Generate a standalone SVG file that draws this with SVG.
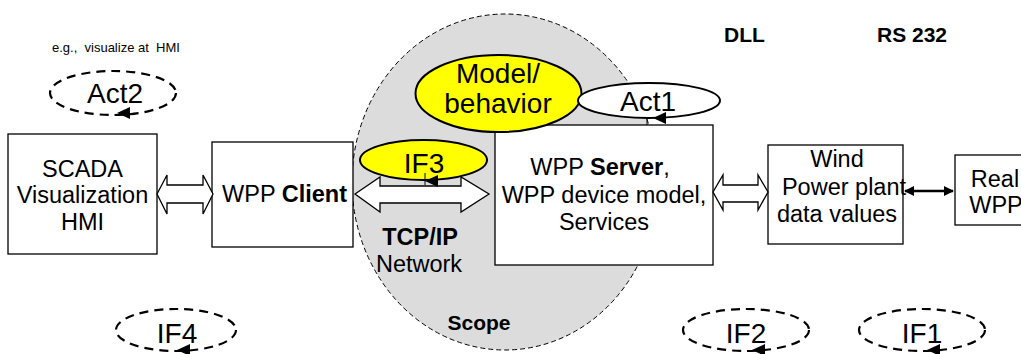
<svg xmlns="http://www.w3.org/2000/svg" width="1021" height="354" viewBox="0 0 1021 354">
<style>
text{font-family:"Liberation Sans",Arial,sans-serif;fill:#000}
.t{font-size:23.5px;text-anchor:middle}
.b{font-weight:bold}
.box{fill:#fff;stroke:#000;stroke-width:1.3}
.dash{fill:none;stroke:#000;stroke-width:2.2;stroke-dasharray:9 6}
.yel{fill:#ffff00;stroke:#000;stroke-width:2}
.blk{fill:#fff;stroke:#000;stroke-width:1.3}
.big{font-size:28px;text-anchor:middle}
</style>
<defs>
<path id="ah" d="M0,0 L13,-6 L13,6 Z" fill="#000"/>
<marker id="m" viewBox="0 0 10 10" refX="9" refY="5" markerWidth="4" markerHeight="4" orient="auto-start-reverse"><path d="M0,0 L10,5 L0,10 Z" fill="#000"/></marker>
</defs>
<g id="scope">
<ellipse cx="505" cy="182" rx="153" ry="168" fill="#dcdcdc" stroke="#000" stroke-width="1" stroke-dasharray="5 3"/>
<text x="479" y="330" font-size="21px" class="b" text-anchor="middle">Scope</text>
</g>
<g id="label-eg"><text x="52" y="52" font-size="13px" xml:space="preserve">e.g.,  visualize at  HMI</text></g>
<g id="label-dll"><text x="724" y="42" font-size="21px" class="b">DLL</text></g>
<g id="label-rs232"><text x="877" y="42" font-size="21px" class="b">RS 232</text></g>
<g id="scada">
<rect class="box" x="8" y="134" width="149" height="120"/>
<text class="t" x="82.5" y="177">SCADA</text>
<text class="t" x="82.5" y="203">Visualization</text>
<text class="t" x="82.5" y="230">HMI</text>
</g>
<g id="client">
<rect class="box" x="212" y="142" width="141" height="105"/>
<text class="t" x="284.5" y="202">WPP <tspan class="b">Client</tspan></text>
</g>
<g id="server">
<rect class="box" x="495" y="125" width="218" height="140"/>
<text class="t" x="600" y="175">WPP <tspan class="b">Server</tspan>,</text>
<text class="t" x="604" y="203">WPP device model,</text>
<text class="t" x="604" y="230">Services</text>
</g>
<g id="wind">
<rect class="box" x="768" y="145" width="135" height="99"/>
<text class="t" x="837" y="167">Wind</text>
<text class="t" x="844" y="195">Power plant</text>
<text class="t" x="837" y="222">data values</text>
</g>
<g id="real">
<rect class="box" x="955" y="155" width="80" height="70"/>
<text class="t" x="995" y="187">Real</text>
<text class="t" x="996" y="213">WPP</text>
</g>
<g id="network-label">
<text class="t b" x="420" y="245">TCP/IP</text>
<text class="t" x="419" y="272">Network</text>
</g>
<g id="connectors">
<polygon class="blk" points="157,194 167,175 167,185 203,185 203,175 213,194 203,214 203,203 167,203 167,214"/>
<polygon class="blk" points="355,194 380,177 380,186 461,186 461,177 489,194 461,212 461,203 380,203 380,212"/>
<polygon class="blk" points="713,192 723,175 723,185 758,185 758,175 768,192 758,210 758,202 723,202 723,210"/>
<line x1="905" y1="191" x2="953" y2="191" stroke="#000" stroke-width="2.5" marker-start="url(#m)" marker-end="url(#m)"/>
</g>
<g id="model">
<ellipse class="yel" cx="498.5" cy="93.5" rx="83" ry="38.5"/>
<text class="big" x="498" y="83">Model/</text>
<text class="big" x="498" y="113">behavior</text>
</g>
<g id="act1">
<ellipse fill="#fff" stroke="#000" stroke-width="2" cx="649" cy="100.5" rx="71" ry="17.5"/>
<text class="big" x="648" y="111">Act1</text>
<line x1="647" y1="118" x2="647" y2="125" stroke="#000" stroke-width="1"/>
<use href="#ah" x="653" y="118"/>
</g>
<g id="if3">
<ellipse class="yel" cx="423.5" cy="160" rx="63.5" ry="20"/>
<text class="big" x="424" y="173">IF3</text>
<line x1="425" y1="173" x2="425" y2="185" stroke="#000" stroke-width="1"/>
<use href="#ah" x="425" y="181"/>
</g>
<g id="act2">
<ellipse class="dash" cx="113" cy="93" rx="63" ry="22"/>
<text class="big" x="115" y="103">Act2</text>
<use href="#ah" x="117" y="113"/>
</g>
<g id="if4">
<ellipse class="dash" cx="176" cy="330" rx="60" ry="21"/>
<text class="big" x="177" y="343">IF4</text>
<use href="#ah" x="177" y="350"/>
</g>
<g id="if2">
<ellipse class="dash" cx="746" cy="330" rx="63" ry="21"/>
<text class="big" x="746" y="343">IF2</text>
<use href="#ah" x="752" y="350"/>
</g>
<g id="if1">
<ellipse class="dash" cx="922" cy="330" rx="63" ry="21"/>
<text class="big" x="922" y="343">IF1</text>
<use href="#ah" x="927" y="350"/>
</g>
</svg>
